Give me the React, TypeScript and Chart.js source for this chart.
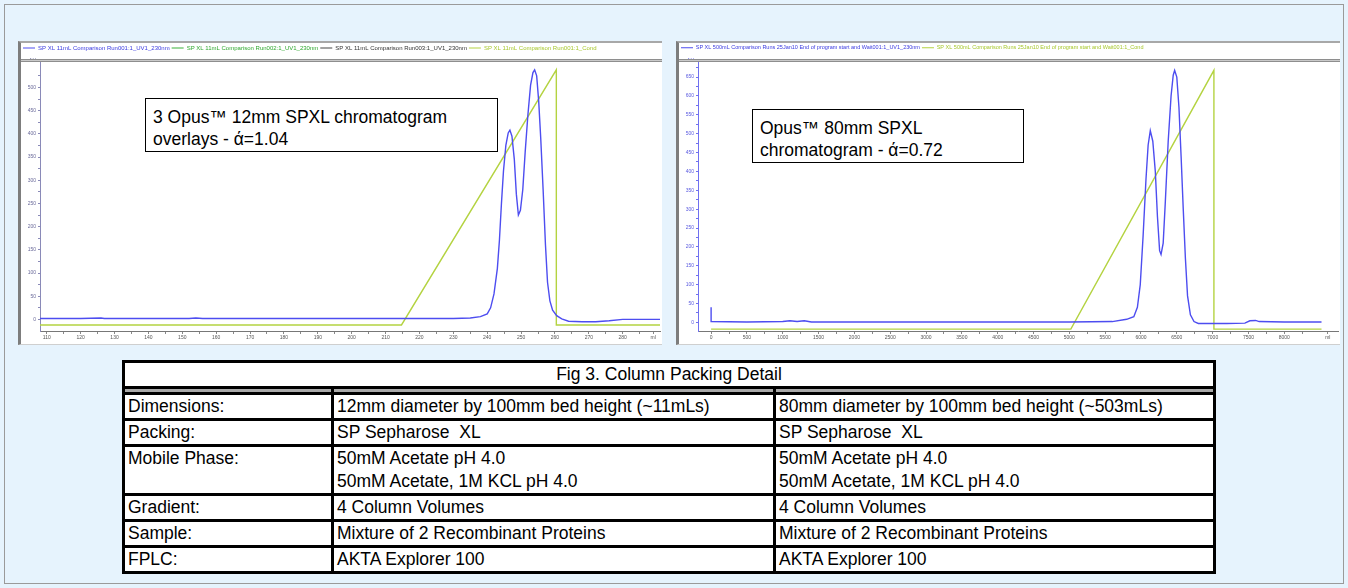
import React, { useEffect, useRef } from "react";
import { Chart, registerables } from "chart.js";

Chart.register(...registerables);

// ---------------- Left chromatogram: Opus 12mm SPXL (3 overlays) ----------------
const leftLegendLabels = [
  "SP XL 11mL Comparison Run001:1_UV1_230nm",
  "SP XL 11mL Comparison Run002:1_UV1_230nm",
  "SP XL 11mL Comparison Run003:1_UV1_230nm",
  "SP XL 11mL Comparison Run001:1_Cond",
];
const leftXLabels = [110, 120, 130, 140, 150, 160, 170, 180, 190, 200, 210, 220, 230, 240, 250, 260, 270, 280];
const leftYLabels = [0, 50, 100, 150, 200, 250, 300, 350, 400, 450, 500];
const leftUvMl = [108, 120, 126, 127, 140, 152, 154, 156, 170, 200, 230, 235, 238, 240, 241, 242, 243, 243.6, 244.2, 244.8, 245.5, 246.2, 246.7, 247.3, 248, 248.6, 249.2, 249.8, 250.5, 251.2, 252, 252.8, 253.5, 254, 254.6, 255.2, 255.8, 256.5, 257.2, 257.8, 258.5, 259.3, 260.5, 262, 264, 268, 272, 276, 280, 291];
const leftUvMau = [2, 2, 3, 2, 2, 2, 3, 2, 2, 2, 2, 3, 6, 12, 25, 55, 110, 170, 250, 320, 375, 402, 408, 395, 345, 270, 225, 235, 280, 360, 440, 505, 532, 538, 525, 470, 390, 280, 160, 80, 40, 20, 8, 1, -4, -5, -5, -3, 0, 0];
const leftCondMl = [108, 214.7, 260.4, 260.4, 291];
const leftCondVal = [-12, -12, 538, -12, -12];

// ---------------- Right chromatogram: Opus 80mm SPXL ----------------
const rightLegendLabels = [
  "SP XL 500mL Comparison Runs 25Jan10 End of program start and Wait001:1_UV1_230nm",
  "SP XL 500mL Comparison Runs 25Jan10 End of program start and Wait001:1_Cond",
];
const rightXLabels = [0, 500, 1000, 1500, 2000, 2500, 3000, 3500, 4000, 4500, 5000, 5500, 6000, 6500, 7000, 7500, 8000];
const rightYLabels = [0, 50, 100, 150, 200, 250, 300, 350, 400, 450, 500, 550, 600, 650];
const rightUvMl = [0, 0, 500, 1000, 1100, 1200, 1300, 1400, 2000, 3000, 4000, 5000, 5600, 5800, 5900, 5950, 5990, 6030, 6070, 6100, 6130, 6165, 6200, 6230, 6260, 6280, 6310, 6340, 6380, 6420, 6450, 6470, 6500, 6530, 6560, 6590, 6620, 6650, 6690, 6740, 6800, 7000, 7200, 7450, 7520, 7600, 7650, 8000, 8520];
const rightUvMau = [40, 2, 1, 2, 4, 2, 4, 1, 1, 1, 1, 1, 2, 8, 15, 40, 100, 230, 380, 470, 508, 480, 400, 280, 190, 180, 210, 320, 480, 600, 655, 668, 650, 570, 440, 300, 170, 70, 20, 2, -3, -3, -3, -2, 4, 5, 2, 1, 1];
const rightCondMl = [0, 5021, 7018, 7018, 8520];
const rightCondVal = [-18, -18, 668, -18, -18];

// ---------------- Table ----------------
const tableTitle = "Fig 3. Column Packing Detail";
const rowLabels = ["Dimensions:", "Packing:", "Mobile Phase:", "Gradient:", "Sample:", "FPLC:"];
const col12mm = [
  ["12mm diameter by 100mm bed height (~11mLs)"],
  ["SP Sepharose  XL"],
  ["50mM Acetate pH 4.0", "50mM Acetate, 1M KCL pH 4.0"],
  ["4 Column Volumes"],
  ["Mixture of 2 Recombinant Proteins"],
  ["AKTA Explorer 100"],
];
const col80mm = [
  ["80mm diameter by 100mm bed height (~503mLs)"],
  ["SP Sepharose  XL"],
  ["50mM Acetate pH 4.0", "50mM Acetate, 1M KCL pH 4.0"],
  ["4 Column Volumes"],
  ["Mixture of 2 Recombinant Proteins"],
  ["AKTA Explorer 100"],
];

const leftNote = ["3 Opus\u2122 12mm SPXL chromatogram", "overlays - \u03AC=1.04"];
const rightNote = ["Opus\u2122 80mm SPXL", "chromatogram - \u03AC=0.72"];

const FONT = 'Arial, "Liberation Sans", sans-serif';
const UV_BLUE = "#4d4df0";
const COND_GREEN = "#b4d341";

const stripPlugin = {
  id: "strip",
  afterDraw(chart: any) {
    const lg = chart.legend;
    if (!lg) return;
    const ctx = chart.ctx;
    const y = Math.round(lg.bottom);
    ctx.save();
    ctx.fillStyle = "#8e8e8e";
    ctx.fillRect(0, y - 2, chart.width, 1);
    ctx.fillStyle = "#c9c9c9";
    ctx.fillRect(0, y - 1, chart.width, 1);
    ctx.fillStyle = "#8e8e8e";
    ctx.fillRect(0, y, chart.width, 1);
    ctx.restore();
  },
};

type ChromProps = {
  width: number;
  height: number;
  legendLabels: string[];
  legendColors: string[];
  legendTextColors: string[];
  legendFontSize: number;
  series: { xs: number[]; ys: number[]; legendIndex: number }[];
  xLabels: number[];
  yLabels: number[];
  xMin: number;
  xMax: number;
  xUnitAt: number;
  yMin: number;
  yMax: number;
  yAxisWidth: number;
  yAxisColor: string;
  yLabelColor: string;
};

function Chromatogram(p: ChromProps) {
  const ref = useRef<HTMLCanvasElement>(null);
  useEffect(() => {
    const datasets = p.legendLabels.map((label, i) => {
      const s = p.series.find((q) => q.legendIndex === i);
      return {
        label,
        data: s ? s.xs.map((x, k) => ({ x, y: s.ys[k] })) : [],
        borderColor: p.legendColors[i],
        backgroundColor: p.legendColors[i],
        borderWidth: 1.4,
        pointRadius: 0,
        tension: 0,
        fill: false,
      };
    });
    const xStep = p.xLabels[1] - p.xLabels[0];
    const yStep = p.yLabels[1] - p.yLabels[0];
    const xTicks: number[] = [];
    p.xLabels.forEach((v) => {
      xTicks.push(v);
      xTicks.push(v + xStep / 2);
    });
    xTicks.push(p.xUnitAt);
    const yTicks: number[] = [];
    p.yLabels.forEach((v) => {
      yTicks.push(v);
      yTicks.push(v + yStep / 2);
    });
    yTicks.push(p.yMax);
    const chart = new Chart(ref.current!, {
      type: "line",
      data: { datasets },
      options: {
        animation: false,
        responsive: false,
        events: [],
        layout: { padding: { top: 0, right: 2, left: 0, bottom: 0 } },
        plugins: {
          tooltip: { enabled: false },
          legend: {
            position: "top",
            align: "start",
            labels: {
              boxWidth: 12,
              boxHeight: 1,
              padding: 2,
              font: { size: p.legendFontSize, family: FONT },
              generateLabels: (c: any) =>
                c.data.datasets.map((d: any, i: number) => ({
                  text: d.label,
                  fillStyle: p.legendColors[i],
                  strokeStyle: p.legendColors[i],
                  lineWidth: 0,
                  fontColor: p.legendTextColors[i],
                  hidden: false,
                  datasetIndex: i,
                })),
            },
          },
        },
        scales: {
          x: {
            type: "linear",
            min: p.xMin,
            max: p.xMax,
            afterBuildTicks: (s: any) => {
              s.ticks = xTicks.map((value) => ({ value }));
            },
            afterFit: (s: any) => {
              s.height = 13;
            },
            ticks: {
              autoSkip: false,
              maxRotation: 0,
              padding: 1,
              color: "#555",
              font: { size: 5, family: FONT },
              callback: (v: any) =>
                v === p.xUnitAt ? "ml" : p.xLabels.includes(v) ? String(v) : "",
            },
            grid: { drawOnChartArea: false, drawTicks: true, tickLength: 3, color: "#888" },
            border: { display: true, color: "#777", width: 1 },
          },
          y: {
            type: "linear",
            min: p.yMin,
            max: p.yMax,
            afterBuildTicks: (s: any) => {
              s.ticks = yTicks.map((value) => ({ value }));
            },
            afterFit: (s: any) => {
              s.width = p.yAxisWidth;
            },
            ticks: {
              autoSkip: false,
              padding: 2,
              color: p.yLabelColor,
              font: { size: 5, family: FONT },
              callback: (v: any) =>
                v === p.yMax ? "mAU" : p.yLabels.includes(v) ? String(v) : "",
            },
            grid: { drawOnChartArea: false, drawTicks: true, tickLength: 2, color: p.yAxisColor },
            border: { display: true, color: p.yAxisColor, width: 1 },
          },
        },
      },
      plugins: [stripPlugin],
    } as any);
    return () => chart.destroy();
  }, []);
  return (
    <canvas
      ref={ref}
      width={p.width}
      height={p.height}
      style={{ display: "block", width: p.width, height: p.height }}
    />
  );
}

function NoteBox({ left, top, width, height, lines }: { left: number; top: number; width: number; height: number; lines: string[] }) {
  return (
    <div
      style={{
        position: "absolute",
        left,
        top,
        width,
        height,
        boxSizing: "border-box",
        border: "1px solid #000",
        background: "#fff",
        fontFamily: FONT,
        fontSize: 17.5,
        lineHeight: "22px",
        padding: "7px 0 0 7px",
        color: "#000",
        whiteSpace: "nowrap",
      }}
    >
      {lines.map((l, i) => (
        <div key={i}>{l}</div>
      ))}
    </div>
  );
}

export default function App() {
  useEffect(() => {
    document.body.style.margin = "0";
  }, []);
  const cellBase: React.CSSProperties = {
    border: "3px solid #000",
    padding: "0 3px",
    lineHeight: "23px",
    verticalAlign: "top",
    whiteSpace: "pre",
    overflow: "hidden",
  };
  const sepCell: React.CSSProperties = { border: "3px solid #000", height: 3, padding: 0, background: "#a9a9a9" };
  return (
    <div
      style={{
        position: "relative",
        width: 1348,
        height: 588,
        background: "#e6f3fd",
        overflow: "hidden",
        fontFamily: FONT,
      }}
    >
      <div style={{ position: "absolute", left: 4, top: 4, width: 1338, height: 578, border: "1px solid #9a9a9a" }} />
      {/* left panel */}
      <div
        style={{
          position: "absolute",
          left: 18,
          top: 41,
          width: 641,
          height: 301,
          background: "#fff",
          borderLeft: "3px solid #7d7d7d",
          borderTop: "2px solid #a8a8a8",
          borderBottom: "1px solid #cfcfcf",
        }}
      >
        <Chromatogram
          width={641}
          height={301}
          legendLabels={leftLegendLabels}
          legendColors={[UV_BLUE, "#39b039", "#444444", COND_GREEN]}
          legendTextColors={["#3a3ae0", "#2ea82e", "#333333", "#a8c830"]}
          legendFontSize={6}
          series={[
            { xs: leftUvMl, ys: leftUvMau, legendIndex: 0 },
            { xs: leftCondMl, ys: leftCondVal, legendIndex: 3 },
          ]}
          xLabels={leftXLabels}
          yLabels={leftYLabels}
          xMin={108}
          xMax={291}
          xUnitAt={289}
          yMin={-25}
          yMax={557}
          yAxisWidth={19}
          yAxisColor="#8a8ab8"
          yLabelColor="#6a6a9a"
        />
        <NoteBox left={124} top={55} width={353} height={54} lines={leftNote} />
      </div>
      {/* right panel */}
      <div
        style={{
          position: "absolute",
          left: 676,
          top: 41,
          width: 661,
          height: 301,
          background: "#fff",
          borderLeft: "3px solid #7d7d7d",
          borderTop: "2px solid #a8a8a8",
          borderBottom: "1px solid #cfcfcf",
        }}
      >
        <Chromatogram
          width={661}
          height={301}
          legendLabels={rightLegendLabels}
          legendColors={[UV_BLUE, COND_GREEN]}
          legendTextColors={["#3a3ae0", "#a8c830"]}
          legendFontSize={5.5}
          series={[
            { xs: rightUvMl, ys: rightUvMau, legendIndex: 0 },
            { xs: rightCondMl, ys: rightCondVal, legendIndex: 1 },
          ]}
          xLabels={rightXLabels}
          yLabels={rightYLabels}
          xMin={-183}
          xMax={8750}
          xUnitAt={8608}
          yMin={-23}
          yMax={694}
          yAxisWidth={19}
          yAxisColor="#7070f0"
          yLabelColor="#5a5ae0"
        />
        <NoteBox left={73} top={66} width={272} height={54} lines={rightNote} />
      </div>
      {/* table */}
      <table
        style={{
          position: "absolute",
          left: 122,
          top: 360,
          width: 1091,
          borderCollapse: "collapse",
          tableLayout: "fixed",
          background: "#fff",
          fontFamily: FONT,
          fontSize: 17.5,
          color: "#000",
        }}
      >
        <colgroup>
          <col style={{ width: 209 }} />
          <col style={{ width: 442 }} />
          <col style={{ width: 440 }} />
        </colgroup>
        <tbody>
          <tr>
            <td colSpan={3} style={{ ...cellBase, textAlign: "center" }}>
              {tableTitle}
            </td>
          </tr>
          <tr>
            <td style={sepCell} />
            <td style={sepCell} />
            <td style={sepCell} />
          </tr>
          {rowLabels.map((lab, i) => (
            <tr key={lab}>
              <td style={cellBase}>{lab}</td>
              <td style={cellBase}>
                {col12mm[i].map((t, k) => (
                  <div key={k}>{t}</div>
                ))}
              </td>
              <td style={cellBase}>
                {col80mm[i].map((t, k) => (
                  <div key={k}>{t}</div>
                ))}
              </td>
            </tr>
          ))}
        </tbody>
      </table>
    </div>
  );
}
